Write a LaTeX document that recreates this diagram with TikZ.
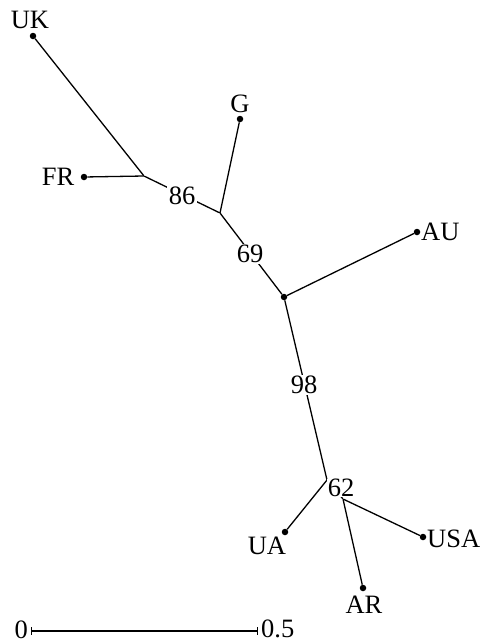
\documentclass[tikz,border=0pt]{standalone}
\usepackage{fontspec}
\setmainfont{Liberation Serif}
\begin{document}
\begin{tikzpicture}[x=1pt,y=-1pt,
  edge/.style={line width=1.3pt},
  leaf/.style={circle,fill=black,inner sep=0pt,minimum size=6.5pt},
  hub/.style={inner sep=0pt,minimum size=0pt},
  lab/.style={font=\fontsize{26.5}{29}\selectfont,inner sep=0pt},
  support/.style={lab,fill=white,inner sep=1.5pt}]
\useasboundingbox (0,0) rectangle (482,643);
% tips
\node[leaf] (UK) at (33,36) {};
\node[leaf] (FR) at (84,177) {};
\node[leaf] (G) at (240,119) {};
\node[leaf] (AU) at (417,232) {};
\node[leaf] (UA) at (285,532) {};
\node[leaf] (USA) at (423,537) {};
\node[leaf] (AR) at (363,588) {};
% internal nodes
\node[hub] (j1) at (144,176) {};
\node[hub] (j2) at (220,213) {};
\node[leaf] (j3) at (284,297) {};
\node[hub] (j4) at (327,480) {};
\node[hub] (j5) at (343,499) {};
% branches
\draw[edge] (UK) -- (j1);
\draw[edge] (FR) -- (j1);
\draw[edge] (j1) -- (j2);
\draw[edge] (G) -- (j2);
\draw[edge] (j2) -- (j3);
\draw[edge] (AU) -- (j3);
\draw[edge] (j3) -- (j4);
\draw[edge] (UA) -- (j4);
\draw[edge] (j4) -- (j5);
\draw[edge] (j5) -- (USA);
\draw[edge] (j5) -- (AR);
% bootstrap support
\node[support] (b86) at (182,196) {86};
\node[support] (b69) at (250,254) {69};
\node[support] (b98) at (304,385) {98};
\node[support,inner sep=0.5pt] (b62) at (341,488) {62};
% tip labels
\node[lab] (tUK) at (30,20) {UK};
\node[lab] (tFR) at (58,177) {FR};
\node[lab] (tG) at (240,104) {G};
\node[lab,anchor=west] (tAU) at (421,232) {AU};
\node[lab] (tUA) at (267,546) {UA};
\node[lab,anchor=west] (tUSA) at (427,539) {USA};
\node[lab] (tAR) at (364,605) {AR};
% scale bar
\coordinate (s0) at (31,631);
\coordinate (s1) at (258,631);
\draw[line width=1.1pt,|-|] (s0) -- (s1);
\node[lab,anchor=east] (z0) at (28,630) {0};
\node[lab,anchor=west] (z1) at (261,629) {0.5};
\end{tikzpicture}
\end{document}
